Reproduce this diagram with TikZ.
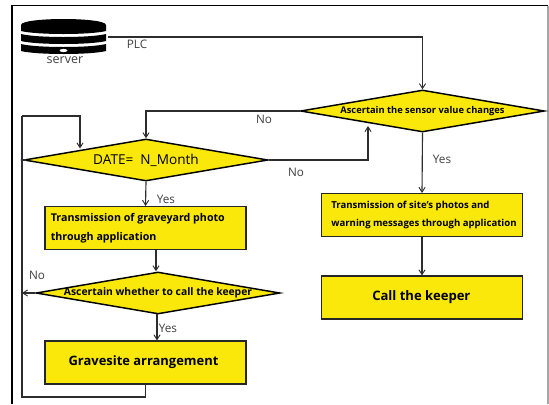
\documentclass[tikz,border=0pt]{standalone}
\usepackage{fontspec}
\setmainfont{Open Sans}
\usetikzlibrary{shapes.geometric,arrows.meta}
\definecolor{boxy}{RGB}{250,232,10}
\definecolor{linegray}{RGB}{45,45,45}
\begin{document}
\begin{tikzpicture}[x=0.75pt,y=-0.75pt,
  conn/.style={draw=linegray,line width=0.85pt,-{Straight Barb[length=3.6pt,width=4.6pt,line width=0.7pt]}},
  plain/.style={draw=linegray,line width=0.85pt},
  flowbox/.style={draw=black!85,line width=1.1pt,fill=boxy,rectangle,minimum width=150.5pt,minimum height=32pt,inner sep=0pt,font=\bfseries\fontsize{7.2pt}{12.8pt}\selectfont},
  decision/.style={draw=black,line width=1.1pt,fill=boxy,diamond,shape aspect=5.8,inner sep=0pt,minimum width=183pt,minimum height=31.5pt},
  tag/.style={inner sep=0pt,text=black!75,font=\fontsize{8.8pt}{10pt}\selectfont}]
\useasboundingbox (0,0) rectangle (549,404);
\fill[white] (0,0) rectangle (549,404);
% frame
\draw[black,line width=1.1pt] (12,404) -- (12,5.5) -- (548,5.5);
\draw[black!35,line width=0.8pt] (548,5.5) -- (548,404);
% server icon
\fill[black] (21,25) .. controls (21,17) and (106,17) .. (106,25) -- (106,31) .. controls (90,35) and (37,35) .. (21,31) -- cycle;
\fill[black] (21,34) .. controls (37,38) and (90,38) .. (106,34) -- (106,41) .. controls (90,45) and (37,45) .. (21,41) -- cycle;
\fill[black] (21,44) .. controls (37,48) and (90,48) .. (106,44) -- (106,51) .. controls (90,55) and (37,55) .. (21,51) -- cycle;
\fill[white] (63.5,50.5) ellipse[x radius=4,y radius=1.6];
\coordinate (srv) at (108,37);
\node[tag,font=\fontsize{9.4pt}{10pt}\selectfont] (servertxt) at (65,60) {server};
\node[tag] (plc) at (137,44) {PLC};
% decisions
\node[decision] (sensor) at (422.5,111) {\makebox[0pt]{\bfseries\fontsize{7pt}{8pt}\selectfont Ascertain the sensor value changes}};
\node[decision] (date) at (146,160) {\makebox[0pt]{\fontsize{10.2pt}{11pt}\selectfont DATE= \ N\_Month}};
\node[decision] (call) at (158,293) {\makebox[0pt]{\bfseries\fontsize{7.75pt}{8pt}\selectfont Ascertain whether to call the keeper}};
% boxes
\node[flowbox] (photo) at (145.5,228) {\begin{minipage}{142pt}\fontsize{8pt}{14.2pt}\selectfont\raggedright Transmission of graveyard photo\\ through application\end{minipage}};
\node[flowbox] (grave) at (145.5,362.5) {\hspace*{-3pt}\fontsize{9.7pt}{11pt}\selectfont Gravesite arrangement};
\node[flowbox] (site) at (422,215) {\begin{minipage}{142pt}\raggedright\hspace*{3pt}Transmission of site's photos and\\ \hspace*{3pt}warning messages through application\end{minipage}};
\node[flowbox] (keeper) at (422,297.5) {\hspace*{-1pt}\fontsize{9.8pt}{11pt}\selectfont Call the keeper};
% loop bus
\coordinate (busT) at (22,116);
\coordinate (busB) at (22,397);
\coordinate (busN) at (22,293);
\coordinate (busD) at (25.5,160);
% connectors
\draw[conn] (srv) -| (sensor.north);
\draw[conn] (sensor.west) -| (date.north);
\draw[conn] (date.east) -| (368,126);
\draw[conn] (date.south) -- (photo.north);
\draw[conn] (156,250) -- (call.north -| 156,0);
\draw[conn] (call.west) -- (busN);
\draw[conn] (157,314) -- (grave.north -| 157,0);
\draw[plain] (grave.south) |- (busB) -- (busT);
\draw[conn] (busT) -- (80,116) -- (80,148.5);
\draw[plain] (busD) -- (date.west);
\draw[conn] (sensor.south) -- (site.north);
\draw[conn] (site.south) -- (keeper.north);
% labels
\node[tag] (no1) at (264,119) {No};
\node[tag] (no2) at (296,172) {No};
\node[tag] (no3) at (37,275) {No};
\node[tag] (yes1) at (442,159) {Yes};
\node[tag] (yes2) at (166,199) {Yes};
\node[tag] (yes3) at (168,328) {Yes};
\end{tikzpicture}
\end{document}
